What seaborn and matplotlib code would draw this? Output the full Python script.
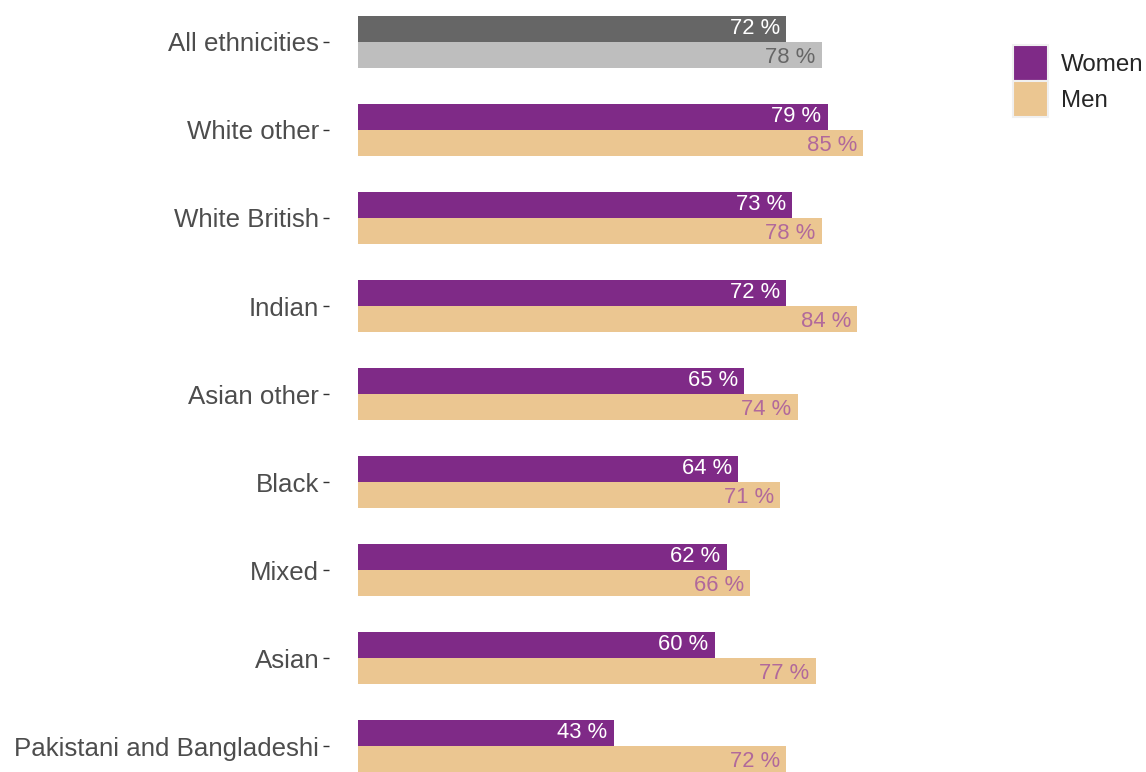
import matplotlib
matplotlib.use("Agg")
import matplotlib.pyplot as plt
from matplotlib.patches import Patch
import seaborn as sns
import pandas as pd

# Employment rate by ethnicity and sex (%)
groups = ["All ethnicities", "White other", "White British", "Indian", "Asian other",
          "Black", "Mixed", "Asian", "Pakistani and Bangladeshi"]
women = [72, 79, 73, 72, 65, 64, 62, 60, 43]
men = [78, 85, 78, 84, 74, 71, 66, 77, 72]
sexes = ["Women", "Men"]

PURPLE = "#7f2a87"
TAN = "#ebc691"
DARK_GREY = "#666666"
LIGHT_GREY = "#bebebe"
MEN_TEXT = "#b1699b"

df = pd.DataFrame({
    "group": groups * 2,
    "sex": [sexes[0]] * len(groups) + [sexes[1]] * len(groups),
    "value": women + men,
})

sns.set_theme(style="white")
plt.rcParams["font.family"] = ["Liberation Sans", "DejaVu Sans"]

W, H = 1146, 772
fig = plt.figure(figsize=(W / 100, H / 100), dpi=100)
ax = fig.add_axes([329 / W, 0, 562 / W, 1])

sns.barplot(data=df, y="group", x="value", hue="sex", order=groups,
            hue_order=sexes, palette=[PURPLE, TAN], width=0.6,
            orient="h", ax=ax, legend=False, saturation=1, linewidth=0)

# The overall row is shown in greys
women_bars, men_bars = ax.containers[0], ax.containers[1]
women_bars[0].set_facecolor(DARK_GREY)
men_bars[0].set_facecolor(LIGHT_GREY)
for bar in list(women_bars) + list(men_bars):
    bar.set_edgecolor("none")
    bar.set_linewidth(0)

for i, (bw, bm) in enumerate(zip(women_bars, men_bars)):
    yw = bw.get_y() + bw.get_height() / 2
    ym = bm.get_y() + bm.get_height() / 2
    ax.annotate(f"{women[i]} %", xy=(women[i], yw), xytext=(-4.5, 0.0),
                textcoords="offset points", ha="right", va="center",
                color="white", fontsize=15.8)
    ax.annotate(f"{men[i]} %", xy=(men[i], ym), xytext=(-4.5, -1.8),
                textcoords="offset points", ha="right", va="center",
                color=DARK_GREY if i == 0 else MEN_TEXT, fontsize=15.8)

ax.set_xlim(-4.88, 89.67)
ax.set_ylim(8.295, -0.477)
ax.set_xlabel("")
ax.set_ylabel("")
ax.set_xticks([])
for s in ax.spines.values():
    s.set_visible(False)
ax.tick_params(axis="y", left=True, length=4, width=1, color="#333333",
               pad=3, labelsize=18.6, labelcolor="#4d4d4d")

handles = [Patch(facecolor=PURPLE, edgecolor="#f0f0f0", linewidth=1.5),
           Patch(facecolor=TAN, edgecolor="#f0f0f0", linewidth=1.5)]
fig.legend(handles, sexes, loc="upper left", bbox_to_anchor=(1013 / W, 1 - 45 / H),
           frameon=False, fontsize=17.4, handlelength=1.45, handleheight=1.92,
           labelspacing=0.0, handletextpad=0.55, borderpad=0, borderaxespad=0)

fig.savefig("out.png", dpi=100, facecolor="white")
